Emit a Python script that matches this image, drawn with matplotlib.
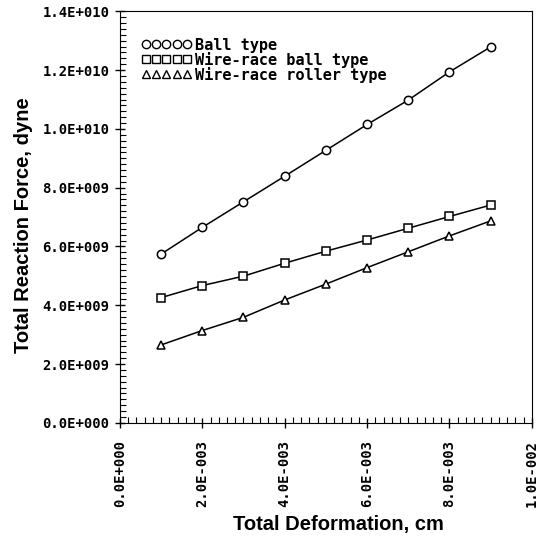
import matplotlib

matplotlib.use("Agg")
import matplotlib.pyplot as plt
from matplotlib.lines import Line2D
from matplotlib.ticker import FuncFormatter, MultipleLocator

# deformation (cm) and reaction force (dyne)
DEFORMATION = [0.001, 0.002, 0.003, 0.004, 0.005, 0.006, 0.007, 0.008, 0.009]
BALL = [5.74e9, 6.65e9, 7.52e9, 8.39e9, 9.27e9, 10.15e9, 10.98e9, 11.94e9, 12.79e9]
WIRE_BALL = [4.26e9, 4.67e9, 4.99e9, 5.43e9, 5.84e9, 6.22e9, 6.62e9, 7.02e9, 7.41e9]
WIRE_ROLLER = [2.65e9, 3.14e9, 3.59e9, 4.18e9, 4.72e9, 5.28e9, 5.82e9, 6.36e9, 6.87e9]

SERIES = [
    ("Ball type", BALL, "o"),
    ("Wire-race ball type", WIRE_BALL, "s"),
    ("Wire-race roller type", WIRE_ROLLER, "^"),
]

MONO = "DejaVu Sans Mono"
SANS = "Liberation Sans"


def sci_label(v, pos=None):
    if v == 0:
        return "0.0E+000"
    s = f"{v:.1E}"
    mant, exp = s.split("E")
    e = int(exp)
    sign = "+" if e >= 0 else "-"
    return f"{mant}E{sign}{abs(e):03d}"


def main():
    fig = plt.figure(figsize=(5.5, 5.4), dpi=100)
    ax = fig.add_axes([0.218, 0.217, 0.749, 0.762])

    handles = []
    for label, values, marker in SERIES:
        ax.plot(DEFORMATION, values, color="black", linewidth=1.1,
                marker=marker, markersize=6, markerfacecolor="white",
                markeredgecolor="black", markeredgewidth=1.1)
        handles.append(Line2D([], [], linestyle="none", marker=marker,
                              markersize=6, markerfacecolor="white",
                              markeredgecolor="black", markeredgewidth=1.0,
                              label=label))

    ax.set_xlim(0, 0.01)
    ax.set_ylim(0, 1.4e10)
    ax.xaxis.set_major_locator(MultipleLocator(0.002))
    ax.xaxis.set_minor_locator(MultipleLocator(0.0002))
    ax.yaxis.set_major_locator(MultipleLocator(2e9))
    ax.yaxis.set_minor_locator(MultipleLocator(2e8))
    ax.xaxis.set_major_formatter(FuncFormatter(sci_label))
    ax.yaxis.set_major_formatter(FuncFormatter(sci_label))

    ax.tick_params(which="major", direction="inout", length=7, width=1, pad=4)
    ax.tick_params(which="minor", direction="in", length=4, width=0.8)
    ax.tick_params(axis="x", labelrotation=90, pad=9)
    for lab in ax.get_xticklabels() + ax.get_yticklabels():
        lab.set_fontfamily(MONO)
        lab.set_fontweight("bold")
        lab.set_fontsize(10)

    ax.set_xlabel("Total Deformation, cm", fontfamily=SANS, fontweight="bold",
                  fontsize=14.5)
    ax.set_ylabel("Total Reaction Force, dyne", fontfamily=SANS,
                  fontweight="bold", fontsize=14.5)
    ax.xaxis.set_label_coords(0.53, -0.224)
    ax.yaxis.set_label_coords(-0.211, 0.48)

    ax.legend(handles=handles, loc="upper left", bbox_to_anchor=(-0.004, 0.992),
              frameon=False, numpoints=5,
              handlelength=3.3, handletextpad=0.2, labelspacing=-0.06,
              borderaxespad=1.0, borderpad=0.5,
              prop={"family": MONO, "weight": "bold", "size": 11})

    fig.savefig("out.png", dpi=100)


if __name__ == "__main__":
    main()
